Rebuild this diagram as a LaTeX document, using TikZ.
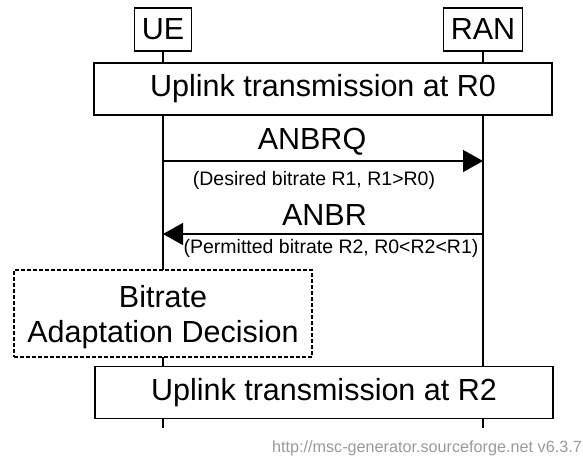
\documentclass[tikz,border=0pt]{standalone}
\usepackage{fontspec}
\setmainfont{Liberation Sans}
\usetikzlibrary{arrows.meta}
\begin{document}
\begin{tikzpicture}[x=1pt,y=-1pt,
  big/.style={font=\fontsize{30.5}{35}\selectfont},
  small/.style={font=\fontsize{19.5}{22}\selectfont},
  entbox/.style={draw, line width=1.3pt, fill=white, big, inner xsep=7pt, inner ysep=0pt, minimum height=43pt},
  widebox/.style={draw, line width=1.5pt, fill=white, big, minimum width=458pt, minimum height=52pt},
  msg/.style={line width=1.5pt, -{Triangle[length=20pt,width=22pt]}}]
\useasboundingbox (0,0) rectangle (583,459);
\coordinate (uebot) at (163,428);
\coordinate (ranbot) at (483,428);
\node[entbox] (ue) at (163,29.5){UE};
\node[entbox] (ran) at (483,29.5){RAN};
\draw[line width=1.5pt](ue) -- (uebot);
\draw[line width=1.5pt](ran) -- (ranbot);
\node[widebox] (tx0) at (323,89){Uplink transmission at R0};
\coordinate (ue1) at (163,161);
\coordinate (ran1) at (483,161);
\draw[msg](ue1) -- (ran1);
\node[big, anchor=base] (anbrq) at (312,149){ANBRQ};
\node[small, anchor=base] (anbrqsub) at (314,185){(Desired bitrate R1, R1>R0)};
\coordinate (ue2) at (163,234);
\coordinate (ran2) at (483,234);
\draw[msg](ran2) -- (ue2);
\node[big, anchor=base] (anbr) at (324.5,225){ANBR};
\node[small, anchor=base] (anbrsub) at (331,253){(Permitted bitrate R2, R0<R2<R1)};
\node[draw, line width=1.2pt, dash pattern=on 4pt off 2pt, fill=white, big, align=center, text depth=0pt, minimum width=298pt, minimum height=87pt] (decision) at (163,313.5){Bitrate\\Adaptation Decision};
\node[widebox] (tx2) at (324,392.5){Uplink transmission at R2};
\node[anchor=base east, text=black!40, font=\fontsize{16.2}{19}\selectfont, inner sep=0pt] (credit) at (582,452){http://msc-generator.sourceforge.net v6.3.7};
\end{tikzpicture}
\end{document}
